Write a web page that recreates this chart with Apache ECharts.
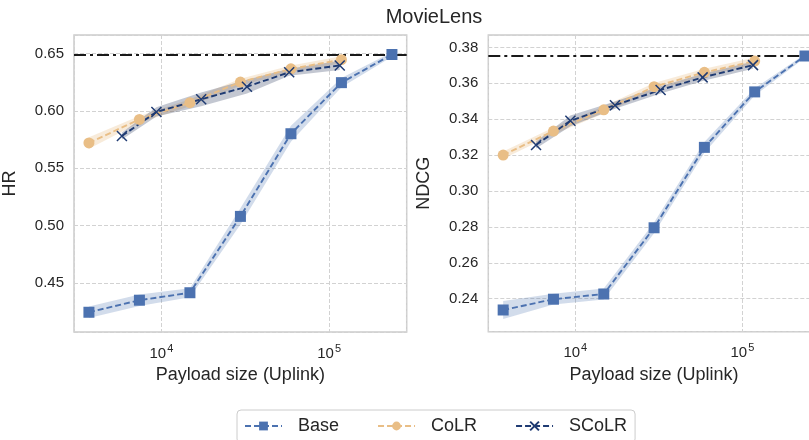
<!DOCTYPE html>
<html><head><meta charset="utf-8">
<script src="https://cdn.jsdelivr.net/npm/echarts@6/dist/echarts.min.js"></script>
<style>html,body{margin:0;padding:0;background:#fff}#c{width:809px;height:440px}</style>
</head><body><div id="c"></div>
<script>
// ---- data ----
const titleText = 'MovieLens';
const xName = 'Payload size (Uplink)';
const seriesNames = ['Base', 'CoLR', 'SCoLR'];

const baseX  = [3700, 7400, 14800, 29600, 59200, 118400, 236800];
const colrX  = [3700, 7400, 14800, 29600, 59200, 118400];
const scolrX = [5820, 9340, 17270, 32370, 57800, 115700];

const baseHR     = [0.4245, 0.435, 0.4415, 0.508, 0.580, 0.6245, 0.649];
const baseHRErr  = [0.005, 0.005, 0.004, 0.007, 0.007, 0.004, 0.002];
const colrHR     = [0.572, 0.5925, 0.607, 0.625, 0.6365, 0.6445];
const colrHRErr  = [0.005, 0.003, 0.003, 0.003, 0.003, 0.003];
const scolrHR    = [0.578, 0.599, 0.610, 0.621, 0.6335, 0.6395];
const scolrHRErr = [0.003, 0.004, 0.006, 0.006, 0.003, 0.004];
const hrRef = 0.649;

const baseNDCG     = [0.2337, 0.2397, 0.2426, 0.2795, 0.3243, 0.3552, 0.3752];
const baseNDCGErr  = [0.005, 0.003, 0.003, 0.003, 0.003, 0.002, 0.001];
const colrNDCG     = [0.320, 0.3334, 0.3452, 0.3581, 0.3661, 0.3724];
const colrNDCGErr  = [0.002, 0.002, 0.002, 0.002, 0.002, 0.002];
const scolrNDCG    = [0.3256, 0.3391, 0.3478, 0.3563, 0.3633, 0.3701];
const scolrNDCGErr = [0.002, 0.003, 0.002, 0.002, 0.002, 0.002];
const ndcgRef = 0.3752;

// ---- styling ----
const FONT = "'Liberation Sans', Arial, sans-serif";
const TXT = '#262626';
const C_BASE = '#4C72B0', C_COLR = '#E9BE86', C_SCOLR = '#1f3b73';
const B_BASE = 'rgba(76,114,176,0.25)', B_COLR = 'rgba(233,190,134,0.30)', B_SCOLR = 'rgba(40,55,90,0.28)';
const XSYM = 'path://M0,0L10,10M10,0L0,10';

function bandSeries(xs, ys, errs, idx, color) {
  const data = xs.map((x, i) => [x, ys[i] - errs[i], ys[i] + errs[i]]);
  return {
    type: 'custom', xAxisIndex: idx, yAxisIndex: idx, z: 1, silent: true, clip: true,
    encode: { x: 0, y: [1, 2] }, data,
    renderItem(params, api) {
      if (params.dataIndex !== 0) return null;
      const up = data.map(d => api.coord([d[0], d[2]]));
      const lo = data.map(d => api.coord([d[0], d[1]])).reverse();
      return { type: 'polygon', shape: { points: up.concat(lo) }, style: { fill: color } };
    }
  };
}
function lineSeries(name, xs, ys, idx, color, symbol, size, extra) {
  return Object.assign({
    type: 'line', name, xAxisIndex: idx, yAxisIndex: idx,
    data: xs.map((x, i) => [x, ys[i]]),
    symbol, symbolSize: size, showSymbol: true, z: 3,
    lineStyle: { color, width: 1.9, type: [6, 3] },
    itemStyle: { color }
  }, extra || {});
}
function refLine(v) {
  return { silent: true, z: 2, precision: 6, symbol: ['none', 'none'], label: { show: false },
    lineStyle: { color: '#1a1a1a', width: 2, type: [12, 4, 3, 4] }, data: [{ yAxis: v }] };
}
function xAxis(idx) {
  return {
    type: 'log', gridIndex: idx, min: 3015, max: 290000, logBase: 10,
    name: xName, nameLocation: 'middle', nameGap: 34,
    nameTextStyle: { fontFamily: FONT, fontSize: 18, color: TXT },
    axisLine: { show: false }, axisTick: { show: false }, minorTick: { show: false },
    splitLine: { show: true, lineStyle: { color: '#d2d2d2', width: 1, type: [4, 2] } },
    axisLabel: {
      margin: 11, color: TXT, fontFamily: FONT,
      formatter: v => { const l = Math.log10(v); return Math.abs(l - Math.round(l)) < 1e-6 ? '{b|10}{s|' + Math.round(l) + '}' : ''; },
      rich: { b: { fontSize: 15, fontFamily: FONT, color: TXT }, s: { fontSize: 11, fontFamily: FONT, color: TXT, padding: [0, 0, 10, 1] } }
    }
  };
}
function yAxis(idx, name, min, max, split) {
  return {
    type: 'value', gridIndex: idx, min, max, splitNumber: split,
    name, nameLocation: 'middle', nameGap: 55,
    nameTextStyle: { fontFamily: FONT, fontSize: 18, color: TXT },
    axisLine: { show: false }, axisTick: { show: false },
    splitLine: { show: true, lineStyle: { color: '#d2d2d2', width: 1, type: [4, 2] } },
    axisLabel: { margin: 10, fontSize: 15, fontFamily: FONT, color: TXT,
      formatter: v => Math.abs(v * 100 - Math.round(v * 100)) < 1e-6 ? v.toFixed(2) : '' }
  };
}

const chart = echarts.init(document.getElementById('c'), null, { renderer: 'canvas' });
chart.setOption({
  animation: false,
  backgroundColor: '#fff',
  graphic: [{ type: 'text', x: 434, y: 17, style: { text: titleText, fontFamily: FONT, fontSize: 20, fill: TXT, textAlign: 'center', textVerticalAlign: 'middle' } }],
  legend: {
    data: seriesNames, left: 237, top: 410, orient: 'horizontal',
    itemWidth: 37, itemHeight: 11, itemGap: 38,
    padding: [7, 8, 8, 7], borderColor: '#cccccc', borderWidth: 1, borderRadius: 4,
    backgroundColor: '#fff',
    textStyle: { fontFamily: FONT, fontSize: 18, color: TXT, padding: [0, 0, 0, 11] }
  },
  grid: [
    { left: 74, top: 35, width: 332.7, height: 297, show: true, borderColor: '#cccccc', borderWidth: 1.5, containLabel: false, outerBoundsMode: 'none' },
    { left: 488.3, top: 35, width: 331.4, height: 296.7, show: true, borderColor: '#cccccc', borderWidth: 1.5, containLabel: false, outerBoundsMode: 'none' }
  ],
  xAxis: [xAxis(0), xAxis(1)],
  yAxis: [yAxis(0, 'HR', 0.4073, 0.666, 5), yAxis(1, 'NDCG', 0.2216, 0.3869, 8)],
  series: [
    bandSeries(baseX, baseHR, baseHRErr, 0, B_BASE),
    bandSeries(colrX, colrHR, colrHRErr, 0, B_COLR),
    bandSeries(scolrX, scolrHR, scolrHRErr, 0, B_SCOLR),
    lineSeries('CoLR', colrX, colrHR, 0, C_COLR, 'circle', 11),
    lineSeries('SCoLR', scolrX, scolrHR, 0, C_SCOLR, XSYM, 10, { itemStyle: { color: C_SCOLR, borderColor: C_SCOLR, borderWidth: 1.5 } }),
    lineSeries('Base', baseX, baseHR, 0, C_BASE, 'rect', 11, { markLine: refLine(hrRef) }),
    bandSeries(baseX, baseNDCG, baseNDCGErr, 1, B_BASE),
    bandSeries(colrX, colrNDCG, colrNDCGErr, 1, B_COLR),
    bandSeries(scolrX, scolrNDCG, scolrNDCGErr, 1, B_SCOLR),
    lineSeries('CoLR', colrX, colrNDCG, 1, C_COLR, 'circle', 11),
    lineSeries('SCoLR', scolrX, scolrNDCG, 1, C_SCOLR, XSYM, 10, { itemStyle: { color: C_SCOLR, borderColor: C_SCOLR, borderWidth: 1.5 } }),
    lineSeries('Base', baseX, baseNDCG, 1, C_BASE, 'rect', 11, { markLine: refLine(ndcgRef) })
  ]
});
</script></body></html>
